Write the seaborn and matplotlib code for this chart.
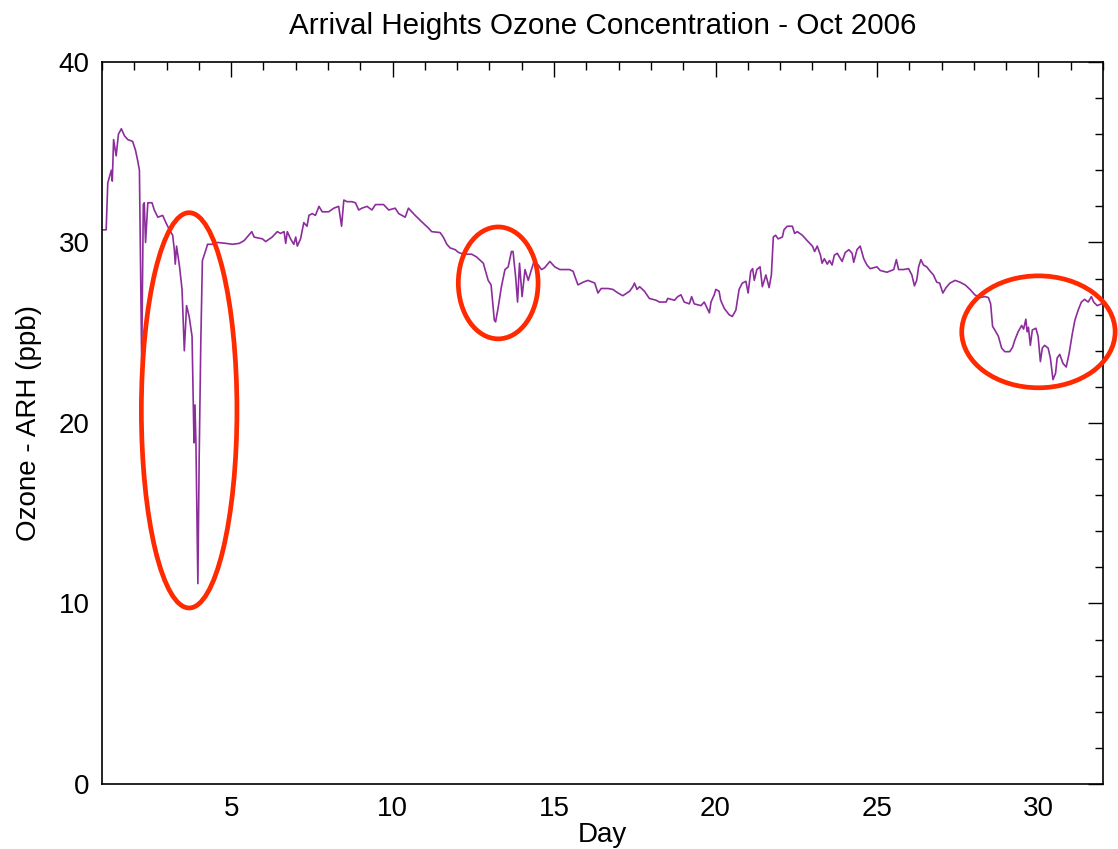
import matplotlib
matplotlib.use("Agg")
import matplotlib.pyplot as plt
from matplotlib.patches import Ellipse
from matplotlib.ticker import MultipleLocator
import seaborn as sns
import pandas as pd

# Arrival Heights surface ozone, October 2006 (day of month, ppb)
day = [
    1.02, 1.13, 1.18, 1.29, 1.32, 1.36, 1.44, 1.51, 1.60, 1.70, 1.80, 1.95,
    2.04, 2.11, 2.16, 2.23, 2.28, 2.31, 2.35, 2.42, 2.55, 2.62, 2.73, 2.88,
    2.98, 3.09, 3.19, 3.24, 3.27, 3.31, 3.40, 3.48, 3.55, 3.62, 3.70, 3.79,
    3.85, 3.88, 3.91, 3.97, 4.01, 4.06, 4.11, 4.22, 4.27, 4.42, 4.58, 4.84,
    5.04, 5.25, 5.40, 5.64, 5.71, 5.97, 6.07, 6.27, 6.43, 6.53, 6.64, 6.69,
    6.74, 6.84, 6.94, 7.00, 7.05, 7.15, 7.25, 7.35, 7.41, 7.51, 7.61, 7.72,
    7.82, 8.02, 8.18, 8.33, 8.42, 8.49, 8.59, 8.74, 8.85, 8.95, 9.05, 9.21,
    9.36, 9.47, 9.72, 9.88, 10.08, 10.19, 10.39, 10.49, 10.70, 10.90, 11.11,
    11.21, 11.47, 11.57, 11.68, 11.78, 11.94, 12.04, 12.19, 12.45, 12.60,
    12.81, 12.96, 13.05, 13.15, 13.19, 13.27, 13.37, 13.48, 13.58, 13.68,
    13.73, 13.81, 13.87, 13.93, 14.01, 14.10, 14.20, 14.30, 14.38, 14.51,
    14.61, 14.71, 14.87, 15.02, 15.18, 15.48, 15.59, 15.69, 15.74, 15.90,
    16.05, 16.26, 16.36, 16.46, 16.67, 16.82, 16.98, 17.13, 17.34, 17.44,
    17.49, 17.57, 17.65, 17.80, 17.95, 18.16, 18.26, 18.47, 18.52, 18.73,
    18.83, 18.93, 19.03, 19.19, 19.26, 19.34, 19.55, 19.65, 19.81, 19.86,
    19.96, 20.01, 20.11, 20.16, 20.27, 20.42, 20.52, 20.63, 20.73, 20.83,
    20.94, 21.01, 21.09, 21.15, 21.20, 21.28, 21.38, 21.45, 21.56, 21.66,
    21.73, 21.79, 21.86, 21.94, 22.07, 22.12, 22.22, 22.38, 22.45, 22.53,
    22.69, 22.84, 23.00, 23.07, 23.15, 23.25, 23.30, 23.37, 23.46, 23.53,
    23.61, 23.68, 23.77, 23.92, 24.02, 24.13, 24.23, 24.28, 24.38, 24.48,
    24.59, 24.69, 24.79, 25.00, 25.10, 25.31, 25.52, 25.60, 25.67, 25.82,
    25.98, 26.08, 26.16, 26.23, 26.29, 26.36, 26.44, 26.54, 26.65, 26.75,
    26.85, 26.94, 27.04, 27.14, 27.26, 27.42, 27.57, 27.73, 27.88, 28.03,
    28.19, 28.34, 28.45, 28.52, 28.58, 28.65, 28.76, 28.86, 28.96, 29.11,
    29.20, 29.27, 29.37, 29.48, 29.54, 29.61, 29.65, 29.69, 29.75, 29.81,
    29.92, 29.99, 30.06, 30.12, 30.19, 30.30, 30.37, 30.45, 30.53, 30.58,
    30.66, 30.76, 30.86, 30.95, 31.05, 31.13, 31.23, 31.33, 31.43, 31.54,
    31.64, 31.71, 31.82, 31.95,
]
ozone = [
    30.7, 30.7, 33.3, 34.0, 33.4, 35.7, 34.8, 36.0, 36.3, 35.9, 35.7, 35.6,
    35.1, 34.5, 34.0, 23.4, 32.1, 32.2, 30.0, 32.2, 32.2, 31.8, 31.4, 31.5,
    31.1, 30.7, 30.4, 29.6, 28.8, 29.8, 28.7, 27.4, 24.0, 26.5, 25.9, 24.8,
    18.9, 21.0, 18.9, 11.1, 18.0, 24.4, 29.0, 29.6, 29.9, 29.9, 30.0, 29.95,
    29.9, 29.95, 30.1, 30.6, 30.3, 30.2, 30.05, 30.3, 30.6, 30.5, 30.6, 29.95,
    30.6, 30.2, 29.9, 30.3, 29.8, 30.2, 31.1, 30.9, 31.5, 31.6, 31.5, 32.0,
    31.7, 31.7, 31.9, 32.0, 30.9, 32.35, 32.26, 32.26, 32.2, 31.8, 31.9, 32.0,
    31.8, 32.1, 32.1, 31.8, 31.9, 31.6, 31.4, 31.9, 31.5, 31.15, 30.8,
    30.6, 30.55, 30.3, 29.9, 29.7, 29.6, 29.45, 29.35, 29.35, 29.2,
    28.85, 27.9, 27.65, 25.7, 25.6, 26.4, 27.55, 28.5, 28.65, 29.5,
    29.5, 28.1, 26.7, 28.85, 27.0, 28.5, 27.9, 28.5, 28.95, 28.75,
    28.5, 28.6, 28.95, 28.65, 28.5, 28.5, 28.4, 27.9, 27.65, 27.8,
    27.9, 27.75, 27.2, 27.45, 27.45, 27.4, 27.2, 27.05, 27.3, 27.55,
    27.75, 27.4, 27.55, 27.3, 26.9, 26.8, 26.7, 26.7, 26.9, 26.8,
    27.0, 27.1, 26.7, 26.6, 27.0, 26.6, 26.5, 26.7, 26.1, 26.7,
    27.1, 27.4, 27.3, 26.8, 26.35, 26.0, 25.9, 26.25, 27.4, 27.75,
    27.85, 27.2, 28.4, 28.55, 27.9, 28.5, 28.65, 27.55, 28.2, 27.5,
    28.2, 30.3, 30.4, 30.2, 30.3, 30.7, 30.9, 30.9, 30.5, 30.6,
    30.4, 30.1, 29.8, 29.5, 29.8, 29.3, 28.85, 29.1, 28.8, 29.0,
    28.75, 29.3, 29.4, 28.95, 29.45, 29.6, 29.4, 28.9, 29.6, 29.8,
    29.1, 28.75, 28.55, 28.65, 28.45, 28.35, 28.5, 29.05, 28.5, 28.5,
    28.55, 28.2, 27.6, 27.9, 28.65, 29.05, 28.75, 28.65, 28.4, 28.2,
    27.8, 27.75, 27.2, 27.5, 27.75, 27.9, 27.8, 27.65, 27.4, 27.1,
    26.95, 27.0, 26.95, 26.6, 25.35, 25.15, 24.8, 24.15, 23.95, 23.95,
    24.2, 24.6, 25.05, 25.4, 25.2, 25.75, 25.05, 25.3, 24.3, 25.15,
    25.25, 24.8, 23.4, 24.15, 24.3, 24.15, 23.6, 22.4, 22.75, 23.6,
    23.8, 23.3, 23.1, 23.85, 24.95, 25.7, 26.25, 26.7, 26.85, 26.7,
    27.0, 26.7, 26.5, 26.6,
]

# Highlighted ozone-depletion events: centre (day, ppb) and size (days, ppb)
event_day = [3.70, 13.27, 30.00]
event_ppb = [20.7, 27.76, 25.05]
event_width = [2.96, 2.47, 4.75]
event_height = [21.9, 6.2, 6.2]

x_ticks = [5, 10, 15, 20, 25, 30]
y_ticks = [0, 10, 20, 30, 40]

sns.set_theme(style="white")
plt.rcParams["font.family"] = ["Liberation Sans", "DejaVu Sans"]
plt.rcParams["text.color"] = "black"
plt.rcParams["axes.labelcolor"] = "black"
plt.rcParams["xtick.color"] = "black"
plt.rcParams["ytick.color"] = "black"

fig = plt.figure(figsize=(11.18, 8.49), dpi=100)
ax = fig.add_axes([0.0912, 0.0766, 0.8954, 0.8504])

df = pd.DataFrame({"Day": day, "Ozone": ozone})
sns.lineplot(data=df, x="Day", y="Ozone", ax=ax, color="#8C2D9C",
             linewidth=1.2, estimator=None, sort=False)

for cx, cy, w, h in zip(event_day, event_ppb, event_width, event_height):
    e = Ellipse((cx, cy), w, h, fill=False, edgecolor="#FF2A00",
                linewidth=3.4, clip_on=False, zorder=5)
    ax.add_patch(e)

ax.set_xlim(1, 32)
ax.set_ylim(0, 40)
ax.set_xticks(x_ticks)
ax.set_yticks(y_ticks)
ax.xaxis.set_minor_locator(MultipleLocator(1))
ax.yaxis.set_minor_locator(MultipleLocator(2))
ax.tick_params(which="both", direction="in", top=True, right=True,
               color="black", width=1.0, labelsize=20, pad=9,
               labelcolor="black")
ax.tick_params(which="major", length=11)
ax.tick_params(which="minor", length=6)
for s in ax.spines.values():
    s.set_color("black")
    s.set_linewidth(1.2)

ax.set_xlabel("Day", fontsize=20, labelpad=0, color="black")
ax.set_ylabel("Ozone - ARH (ppb)", fontsize=20, labelpad=12, color="black")
ax.set_title("Arrival Heights Ozone Concentration - Oct 2006",
             fontsize=21.3, pad=20, color="black")

fig.savefig("out.png", dpi=100, facecolor="white")
